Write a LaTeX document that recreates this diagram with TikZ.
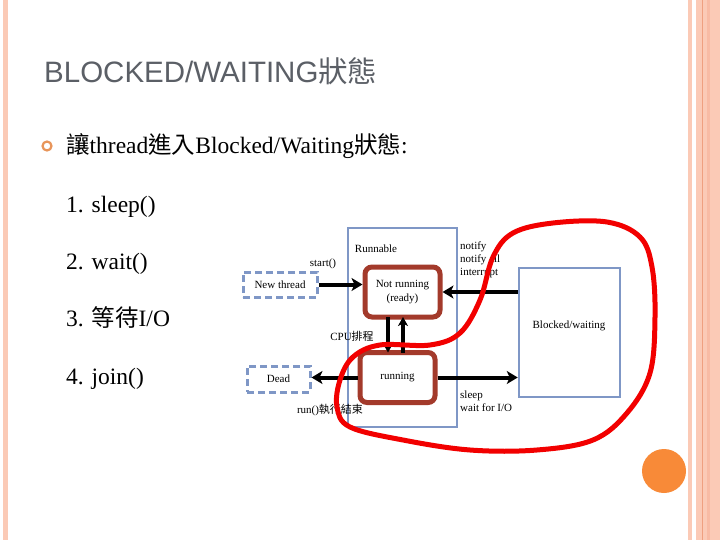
\documentclass[tikz,border=0pt]{standalone}
\usepackage{fontspec}
\setmainfont{Liberation Serif}
\setsansfont{Liberation Sans}
\newfontfamily\cjk{Noto Sans CJK TC}
\usetikzlibrary{arrows.meta}
\definecolor{stripe}{HTML}{FBCAB6}
\definecolor{stripedark}{HTML}{EFA080}
\definecolor{stripemid}{HTML}{F8BBA4}
\definecolor{titlegray}{HTML}{5B5F66}
\definecolor{boxblue}{HTML}{7F97C6}
\definecolor{boxbrown}{HTML}{A33A2B}
\definecolor{loopred}{HTML}{F20000}
\definecolor{dotorange}{HTML}{F88A38}
\definecolor{bulorange}{HTML}{E8955A}
\tikzset{
  lbl/.style={font=\fontsize{11}{13}\selectfont, inner sep=0pt},
  listtxt/.style={anchor=base west, font=\fontsize{23.5}{27}\selectfont, inner sep=0pt},
  statebox/.style={draw=boxbrown, line width=5pt, rounded corners=7pt, fill=white, font=\fontsize{11}{13}\selectfont, align=center, inner sep=0pt},
  dashbox/.style={draw=boxblue, line width=3pt, dash pattern=on 7pt off 4pt, font=\fontsize{11}{13}\selectfont, inner sep=0pt},
  bluebox/.style={draw=boxblue, line width=2.5pt, inner sep=0pt},
  arr/.style={draw=black, line width=4pt, -{Stealth[length=11pt,width=13pt,inset=3pt]}},
  varr/.style={draw=black, line width=3.5pt, -{Stealth[length=9pt,width=10pt,inset=2.5pt]}},
}
\begin{document}
\begin{tikzpicture}[x=1pt,y=-1pt]
\useasboundingbox (0,0) rectangle (720,540);
\fill[white] (0,0) rectangle (720,540);
% side stripes
\fill[stripe] (3,0) rectangle (8,540);
\fill[stripe] (688,0) rectangle (692,540);
\fill[stripe] (696,0) rectangle (720,540);
\fill[stripemid] (707,0) rectangle (710,540);
\fill[stripedark] (701.5,0) rectangle (702.5,540);
% title
\node[anchor=base west, inner sep=0pt, font=\sffamily\fontsize{29.5}{33}\selectfont, text=titlegray] (title) at (44,83) {BLOCKED/WAITING{\cjk 狀態}};
% bullet
\node[circle, draw=bulorange, line width=2.2pt, minimum size=9pt, inner sep=0pt] (bul) at (47,146) {};
\node[listtxt] (intro) at (66,154) {{\cjk 讓}thread{\cjk 進入}Blocked/Waiting{\cjk 狀態}:};
\node[listtxt] (l1) at (66,212) {1. sleep()};
\node[listtxt] (l2) at (66,269) {2. wait()};
\node[listtxt] (l3) at (66,326) {3. {\cjk 等待}I/O};
\node[listtxt] (l4) at (66,384) {4. join()};
% diagram
\node[bluebox, minimum width=109pt, minimum height=199pt] (runnable) at (402.5,327.5) {};
\node[lbl] (runlbl) at (376,249) {Runnable};
\node[statebox, minimum width=75pt, minimum height=50pt] (notrun) at (402.5,292) {Not running\\[1pt](ready)};
\node[statebox, minimum width=75pt, minimum height=50pt] (running) at (397.5,377.5) {running};
\node[dashbox, minimum width=74pt, minimum height=25pt] (newthread) at (280,284.5) {New thread};
\node[dashbox, minimum width=63pt, minimum height=26pt] (dead) at (278.5,379) {Dead};
\node[bluebox, minimum width=101pt, minimum height=129pt] (blocked) at (569.5,332.5) {};
\node[lbl] (blocklbl) at (569,326) {Blocked/waiting};
% connectors
\draw[arr] (newthread.east) -- (newthread.east -| notrun.west);
\draw[arr] (blocked.west |- notrun.east) -- (notrun.east);
\draw[arr] (running.east) -- (running.east -| blocked.west);
\draw[arr] (running.west) -- (running.west -| dead.east);
\draw[varr] (388,317) -- (388,352.5);
\draw[varr] (403,352.5) -- (403,317);
% labels
\node[lbl] (startlbl) at (323,264) {start()};
\node[lbl] (cpulbl) at (352,336) {CPU{\cjk 排程}};
\node[lbl] (endlbl) at (330,410) {run(){\cjk 執行結束}};
\node[lbl, anchor=north west, align=left] (notifylbl) at (460,242) {notify\\notify all\\interrupt};
\node[lbl, anchor=north west, align=left] (sleeplbl) at (460,391) {sleep\\wait for I/O};
% red loop
\draw[loopred, line width=5pt] plot[smooth cycle, tension=0.6] coordinates {
 (353,357) (380,345) (430,345) (460,333) (480,300) (493,257) (513,233) (553,223)
 (607,222) (640,237) (652,267) (655,317) (650,373) (627,413) (593,440) (537,450)
 (470,450) (403,440) (350,427) (337,407) (340,380)};
% orange dot
\fill[dotorange] (664,471) circle (22pt);
\end{tikzpicture}
\end{document}
